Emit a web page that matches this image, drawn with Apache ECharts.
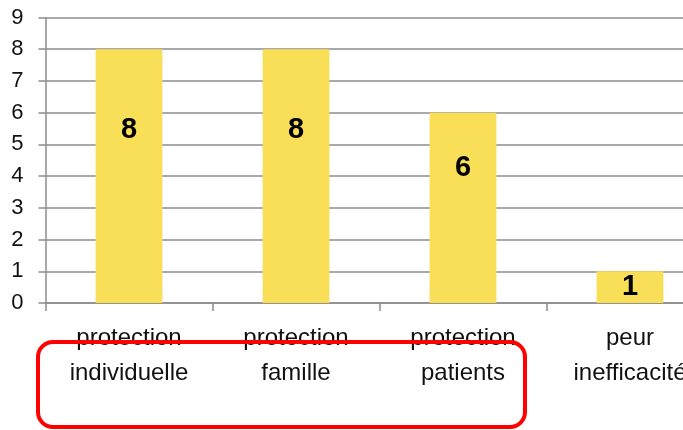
<!DOCTYPE html>
<html>
<head>
<meta charset="utf-8">
<script src="https://cdn.jsdelivr.net/npm/echarts@6/dist/echarts.min.js"></script>
<style>
  html, body { margin: 0; padding: 0; background: #fff; overflow: hidden; }
  /* the plot runs past the right edge of the window in the original, so the
     canvas is wider than the page and simply gets cut off */
  #chart { width: 720px; height: 430px; }
</style>
</head>
<body>
<div id="chart"></div>
<script>
var categories = ['protection\nindividuelle', 'protection\nfamille', 'protection\npatients', 'peur\ninefficacité'];
var values = [8, 8, 6, 1];
// where the value label sits inside each bar (vertical share of the bar)
var labelSpots = ['32%', '32%', '29%', '50%'];

var font = '"Liberation Sans", Arial, sans-serif';

var chart = echarts.init(document.getElementById('chart'));

var barData = values.map(function (v, i) {
    return {
        value: v,
        label: { position: ['50%', labelSpots[i]] }
    };
});

chart.setOption({
    backgroundColor: '#fff',
    animation: false,
    grid: {
        left: 45.5,
        top: 17.5,
        width: 668,
        height: 285.5,
        containLabel: false
    },
    xAxis: {
        type: 'category',
        data: categories,
        axisLine: { lineStyle: { color: '#8c8c8c', width: 1.5 } },
        axisTick: { show: true, interval: 0, length: 8, lineStyle: { color: '#8c8c8c', width: 1.5 } },
        axisLabel: {
            interval: 0,
            margin: 18,
            fontFamily: font,
            fontSize: 24,
            lineHeight: 35,
            color: '#111'
        }
    },
    yAxis: {
        type: 'value',
        min: 0,
        max: 9,
        interval: 1,
        axisLine: { show: true, lineStyle: { color: '#8c8c8c', width: 1.5 } },
        axisTick: { show: true, length: 7, lineStyle: { color: '#8c8c8c', width: 1.5 } },
        splitLine: { lineStyle: { color: '#8c8c8c', width: 1.5 } },
        axisLabel: {
            margin: 22,
            fontFamily: font,
            fontSize: 22,
            color: '#111'
        }
    },
    series: [{
        type: 'bar',
        data: barData,
        barWidth: '40%',
        itemStyle: { color: '#f9de57' },
        label: {
            show: true,
            align: 'center',
            verticalAlign: 'middle',
            fontFamily: font,
            fontWeight: 'bold',
            fontSize: 29,
            color: '#000'
        }
    }],
    graphic: [{
        type: 'rect',
        z: 100,
        shape: { x: 38, y: 342, width: 487, height: 85, r: 15 },
        style: { fill: 'none', stroke: '#ff0000', lineWidth: 4 }
    }]
});
</script>
</body>
</html>
